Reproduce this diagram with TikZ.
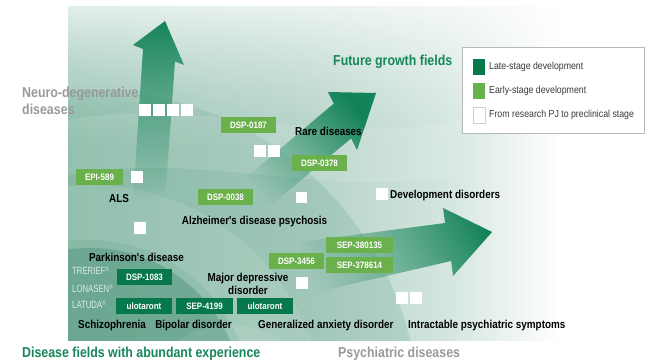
\documentclass[tikz,border=0pt]{standalone}
\usepackage{fontspec}
\setmainfont{Liberation Sans}
\newfontfamily\cf[FakeStretch=0.86]{Liberation Sans}
\newfontfamily\cfn[FakeStretch=0.74]{Liberation Sans}
\usetikzlibrary{fadings}
\definecolor{dkgreen}{HTML}{07774C}
\definecolor{ltgreen}{HTML}{6AB04C}
\definecolor{headgreen}{HTML}{17875A}
\definecolor{headgray}{HTML}{9A9A9A}
\definecolor{legtext}{HTML}{3A3A3A}
\definecolor{bgA}{HTML}{94C2B0}
\definecolor{bgB}{HTML}{B3D2C6}
\definecolor{bgC}{HTML}{D3E5DE}
\definecolor{bgdark}{HTML}{4A9378}
\definecolor{arrowdk}{HTML}{0E8055}
\definecolor{tradegray}{HTML}{DCE8E3}
\pgfdeclarehorizontalshading{bgshade}{100bp}{color(0bp)=(bgA); color(25bp)=(bgA); color(45bp)=(bgB); color(57bp)=(bgC); color(67bp)=(white); color(100bp)=(white)}
\tikzfading[name=arrowfade, top color=transparent!0, middle color=transparent!40, bottom color=transparent!100]
\begin{document}
\begin{tikzpicture}[x=1pt,y=-1pt,
  boxbase/.style={minimum height=16, inner sep=0, text=white, font=\cf\bfseries\fontsize{9.3}{10}\selectfont},
  late/.style={boxbase, fill=dkgreen},
  early/.style={boxbase, fill=ltgreen},
  wbox/.style={fill=white, minimum width=12, minimum height=12, inner sep=0},
  lbl/.style={inner sep=0, text=black, font=\cf\bfseries\fontsize{11.5}{13}\selectfont},
  headg/.style={inner sep=0, text=headgreen, font=\cf\bfseries\fontsize{14.4}{17}\selectfont},
  heady/.style={inner sep=0, text=headgray, font=\cf\bfseries\fontsize{14.4}{17}\selectfont},
  trade/.style={inner sep=0, anchor=west, text=tradegray, font=\cfn\fontsize{10.5}{12}\selectfont},
  legtxt/.style={inner sep=0, anchor=west, text=legtext, font=\cf\fontsize{10.2}{12}\selectfont},
  swatch/.style={minimum width=12, minimum height=16, inner sep=0},
  bigarrow/.style={fill=arrowdk, path fading=arrowfade, opacity=.97}
]
\useasboundingbox (0,0) rectangle (657,362);
\fill[white] (0,0) rectangle (657,362);

% ---------- background panel ----------
\begin{scope}
\clip (68,6) rectangle (657,340);
\shade[shading=bgshade] (68,6) rectangle (657,340);
% concentric darker regions bottom-left
\fill[bgdark, opacity=.18] (90,420) circle (330);
\fill[white, opacity=.10] (90,420) circle (235);
\fill[bgdark, opacity=.45] (90,400) circle (152);
\fill[bgdark, opacity=.15] (90,400) circle (160);
\fill[white, opacity=.08] (230,420) circle (95);
% light swoosh
\fill[white, opacity=.12] (68,120) .. controls (200,95) and (330,150) .. (460,120) -- (460,175) .. controls (330,200) and (200,150) .. (68,175) -- cycle;
% top white haze
\foreach \i in {0,...,36}{
  \fill[white, opacity={0.72*(1-\i/37)^1.5}] (68,{6+\i*4}) rectangle (657,{10+\i*4});
}
% right white haze
\foreach \i in {0,...,29}{
  \fill[white, opacity={0.9*(\i/30)^1.6}] ({470+\i*6},6) rectangle ({476+\i*6},340);
}
\fill[white] (650,6) rectangle (657,340);
\end{scope}

% ---------- big arrows ----------
\path[bigarrow]
  (165,21) -- (184,65) -- (175,61.5) -- (165,200) -- (133,200) -- (143,49) -- (133,45) -- cycle;
\path[bigarrow, fading angle=-50]
  (376,93) -- (357,150) -- (351.2,138.4) -- (259,215) -- (242,181) -- (333.8,103.6) -- (328,92) -- cycle;
\path[bigarrow, fading angle=-77]
  (492,232) -- (453,276) -- (451,261) -- (300,296) -- (300,242) -- (445,223) -- (443,208) -- cycle;

% ---------- headings ----------
\node[heady, anchor=west, align=left] (neuro) at (22,101) {Neuro-degenerative\\diseases};
\node[headg, anchor=west] (future) at (333,62) {Future growth fields};
\node[headg, anchor=west] (abundant) at (22,354) {Disease fields with abundant experience};
\node[heady, anchor=west] (psych) at (338,354) {Psychiatric diseases};

% ---------- legend ----------
\node[draw=black!28, line width=0.8pt, fill=white, minimum width=182, minimum height=86, inner sep=0] (legend) at (553,90) {};
\node[swatch, fill=dkgreen] (swlate) at (479,67) {};
\node[swatch, fill=ltgreen] (swearly) at (479,91) {};
\node[swatch, fill=white, draw=black!18, line width=0.6pt] (swres) at (479,115) {};
\node[legtxt] (tlate) at (489,67) {Late-stage development};
\node[legtxt] (tearly) at (489,91) {Early-stage development};
\node[legtxt] (tres) at (489,115) {From research PJ to preclinical stage};

% ---------- white squares ----------
\node[wbox] (w1) at (145,110) {};
\node[wbox] (w2) at (159,110) {};
\node[wbox] (w3) at (173,110) {};
\node[wbox] (w4) at (187,110) {};
\node[wbox] (w5) at (260,151) {};
\node[wbox] (w6) at (274,151) {};
\node[wbox] (w7) at (137,177) {};
\node[wbox, minimum width=11, minimum height=11] (w8) at (301.5,197.5) {};
\node[wbox] (w9) at (140,228) {};
\node[wbox] (w10) at (382,194) {};
\node[wbox] (w11) at (302,283) {};
\node[wbox] (w12) at (402,298) {};
\node[wbox] (w13) at (416,298) {};

% ---------- compound boxes ----------
\node[early, minimum width=55] (dsp0187) at (248.5,125) {DSP-0187};
\node[early, minimum width=55] (dsp0378) at (319.5,163) {DSP-0378};
\node[early, minimum width=47] (epi589) at (99.5,177) {EPI-589};
\node[early, minimum width=55] (dsp0038) at (225.5,197) {DSP-0038};
\node[early, minimum width=67] (sep380135) at (359.5,245) {SEP-380135};
\node[early, minimum width=67] (sep378614) at (359.5,265) {SEP-378614};
\node[early, minimum width=55] (dsp3456) at (296.5,261) {DSP-3456};
\node[late, minimum width=55] (dsp1083) at (144.5,277) {DSP-1083};
\node[late, minimum width=56] (ulo1) at (144,306) {ulotaront};
\node[late, minimum width=57] (sep4199) at (204.5,306) {SEP-4199};
\node[late, minimum width=56] (ulo2) at (265,306) {ulotaront};

% ---------- disease labels ----------
\node[lbl] (rare) at (328.5,131) {Rare diseases};
\node[lbl] (als) at (119,199) {ALS};
\node[lbl] (alz) at (254.5,222) {Alzheimer's disease psychosis};
\node[lbl, anchor=west] (devdis) at (390,196) {Development disorders};
\node[lbl] (park) at (136.5,257) {Parkinson's disease};
\node[lbl, align=center] (mdd) at (248,283.5) {Major depressive\\disorder};
\node[lbl] (schizo) at (112,326) {Schizophrenia};
\node[lbl] (bipolar) at (193.5,326) {Bipolar disorder};
\node[lbl, anchor=west] (gad) at (258,326) {Generalized anxiety disorder};
\node[lbl, anchor=west] (intract) at (408,326) {Intractable psychiatric symptoms};

% ---------- trade names ----------
\node[trade] (trerief) at (72,271) {TRERIEF\raisebox{3pt}{\fontsize{6.5}{6.5}\selectfont ®}};
\node[trade] (lonasen) at (72,289) {LONASEN\raisebox{3pt}{\fontsize{6.5}{6.5}\selectfont ®}};
\node[trade] (latuda) at (72,305) {LATUDA\raisebox{3pt}{\fontsize{6.5}{6.5}\selectfont ®}};
\end{tikzpicture}
\end{document}
